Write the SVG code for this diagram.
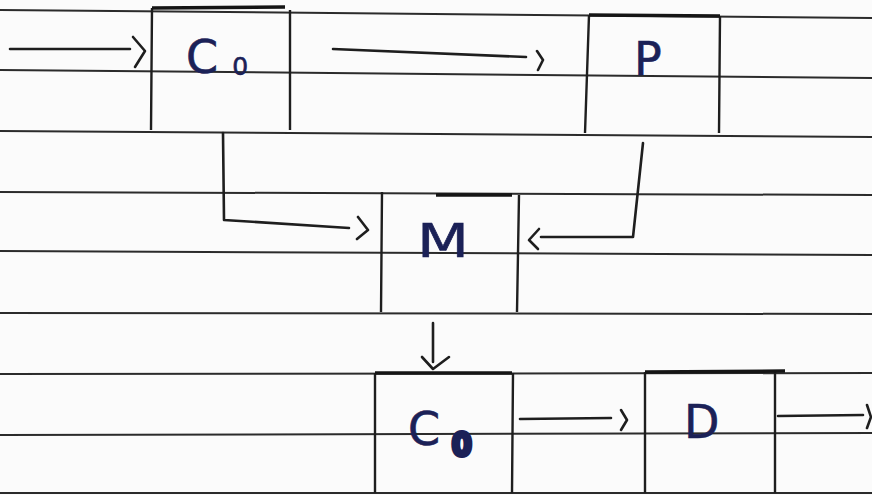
<svg xmlns="http://www.w3.org/2000/svg" width="872" height="495" viewBox="0 0 872 495">
<defs>
<style>
.rule{stroke:#2b2b2b;stroke-width:2;fill:none}
.box{stroke:#1e1e1e;stroke-width:2.4;fill:none}
.boxtop{stroke:#151515;stroke-width:3.5;fill:none}
.conn{stroke:#1e1e1e;stroke-width:2.6;fill:none;stroke-linecap:round;stroke-linejoin:round}
.lbl{font-family:"DejaVu Sans","Liberation Sans",sans-serif;fill:#1b2157;stroke:#1b2157;stroke-width:0.6}
</style>
</defs>
<rect width="872" height="495" fill="#fbfbfb"/>
<g id="paper">
<line class="rule" x1="0" y1="10" x2="872" y2="18"/>
<line class="rule" x1="0" y1="70" x2="872" y2="78"/>
<line class="rule" x1="0" y1="131" x2="872" y2="137"/>
<line class="rule" x1="0" y1="192" x2="872" y2="195"/>
<line class="rule" x1="0" y1="251" x2="872" y2="255"/>
<line class="rule" x1="0" y1="313" x2="872" y2="314"/>
<line class="rule" x1="0" y1="374" x2="872" y2="373"/>
<line class="rule" x1="0" y1="435" x2="872" y2="433"/>
<line class="rule" x1="0" y1="493" x2="872" y2="493"/>
</g>
<g id="node-c0-top">
<path class="box" d="M152,8 L151,130 M290,10 L290,130"/>
<line class="boxtop" x1="152" y1="8" x2="285" y2="7"/>
<text class="lbl" x="186" y="73" font-size="46">C<tspan font-size="25" dx="14" dy="2">0</tspan></text>
</g>
<g id="node-p">
<path class="box" d="M589,15 L585,133 M720,16 L719,133"/>
<line class="boxtop" x1="589" y1="15" x2="720" y2="16"/>
<text class="lbl" x="634" y="75" font-size="46">P</text>
</g>
<g id="node-m">
<path class="box" d="M382,192 L381,312 M519,195 L517,312"/>
<line class="boxtop" x1="436" y1="195" x2="512" y2="195"/>
<text class="lbl" x="417" y="257" font-size="46" textLength="52" lengthAdjust="spacingAndGlyphs">M</text>
</g>
<g id="node-c0-bottom">
<path class="box" d="M375,373 L375,493 M513,373 L512,493"/>
<line class="boxtop" x1="375" y1="373" x2="512" y2="373"/>
<text class="lbl" x="408" y="445" font-size="46">C<tspan font-size="30" dx="12" dy="10" stroke-width="6">0</tspan></text>
</g>
<g id="node-d">
<path class="box" d="M645,372 L645,493 M775,372 L775,493"/>
<line class="boxtop" x1="645" y1="372" x2="785" y2="371"/>
<text class="lbl" x="684" y="438" font-size="46">D</text>
</g>
<g id="connectors">
<path class="conn" d="M10,49 L130,49 M133,37 L145,51 L135,67"/>
<path class="conn" d="M333,49 L526,57 M537,51 L543,60 L538,70"/>
<path class="conn" d="M223,133 L224,220 L349,228 M358,217 L368,230 L357,239"/>
<path class="conn" d="M643,143 L633,237 L541,237 M539,229 L529,240 L538,249"/>
<path class="conn" d="M433,323 L433,362 M422,357 L433,369 L449,357"/>
<path class="conn" d="M520,419 L611,418 M621,410 L627,420 L621,430"/>
<path class="conn" d="M778,416 L863,415 M867,405 L871,417 L867,428"/>
</g>
</svg>
